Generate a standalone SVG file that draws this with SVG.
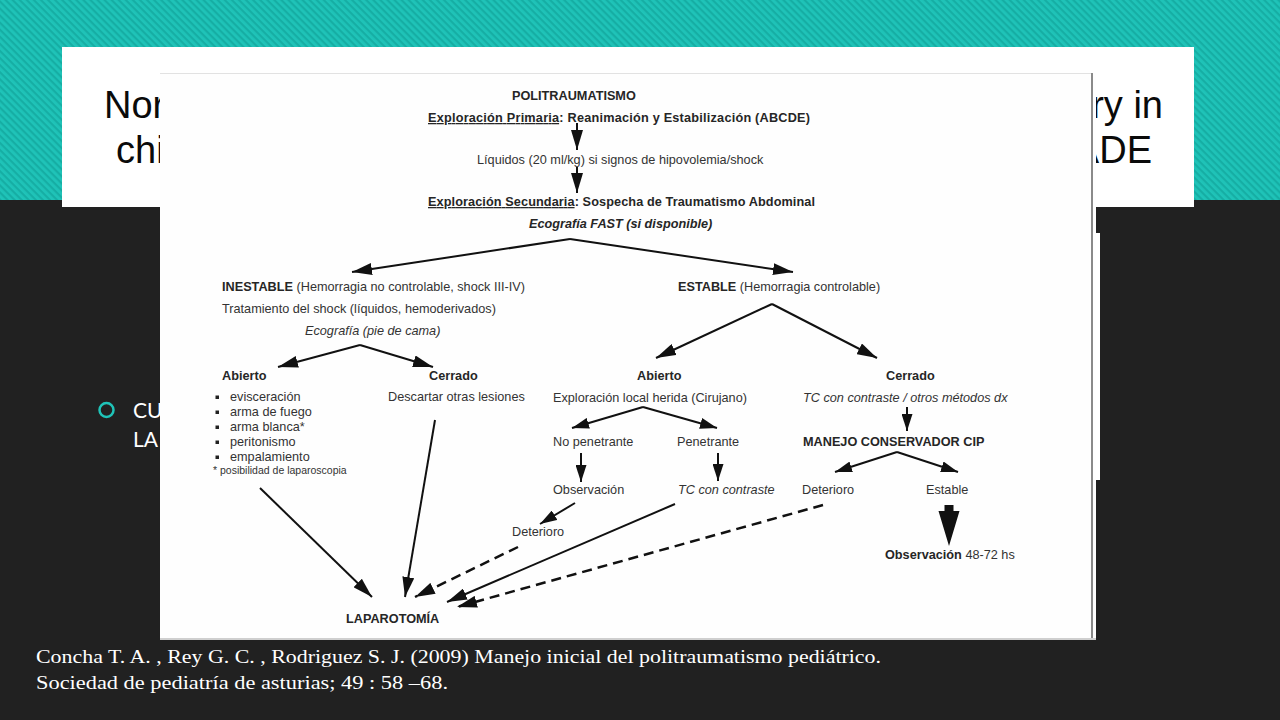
<svg xmlns="http://www.w3.org/2000/svg" width="1280" height="720" viewBox="0 0 1280 720">
  <defs>
    <pattern id="stripes" width="5" height="5" patternUnits="userSpaceOnUse" patternTransform="rotate(45)">
      <rect width="5" height="5" fill="#1fc3b8"/>
      <rect width="5" height="2.2" fill="#16aea4"/>
    </pattern>
    <marker id="ah" viewBox="0 0 20 12" refX="20" refY="6" markerWidth="20" markerHeight="12" markerUnits="userSpaceOnUse" orient="auto">
      <path d="M0,0 L20,6 L0,12 z" fill="#111"/>
    </marker>
    <marker id="ahs" viewBox="0 0 17 11" refX="17" refY="5.5" markerWidth="17" markerHeight="11" markerUnits="userSpaceOnUse" orient="auto">
      <path d="M0,0 L17,5.5 L0,11 z" fill="#111"/>
    </marker>
  </defs>
  <style>
    .d { font-family: "Liberation Sans", Arial, sans-serif; font-size: 12.7px; fill: #333; }
    .b { font-weight: bold; fill: #262626; }
    .i { font-style: italic; }
    .sm { font-size: 10.5px; }
    .ln { stroke: #111; stroke-width: 2; fill: none; marker-end: url(#ah); }
    .lns { stroke: #111; stroke-width: 2; fill: none; marker-end: url(#ahs); }
    .dash { stroke-dasharray: 10 6; stroke-width: 2.5; }
    .title { font-family: "Liberation Sans", Arial, sans-serif; font-size: 38px; fill: #0a0a0a; }
    .cite { font-family: "Liberation Serif", "Times New Roman", serif; font-size: 19px; fill: #fff; }
    .bul { font-family: "Lato", "Liberation Sans", sans-serif; font-size: 21px; fill: #fff; }
  </style>

  <!-- background -->
  <rect x="0" y="0" width="1280" height="720" fill="#212121"/>
  <rect x="0" y="0" width="1280" height="200" fill="url(#stripes)"/>

  <!-- title box -->
  <g id="title">
    <rect x="62" y="47" width="1132" height="160" fill="#fff"/>
    <text class="title"><tspan x="104" y="118">Nor</tspan><tspan x="116" y="163">chi</tspan></text>
    <text class="title" text-anchor="end"><tspan x="1163" y="118">ry in</tspan><tspan x="1152" y="163">ADE</tspan></text>
  </g>

  <!-- content placeholder edge -->
  <rect x="1096" y="233" width="4" height="247" fill="#fff"/>

  <!-- bullet text -->
  <g id="bullet">
    <circle cx="106.5" cy="410" r="7" fill="none" stroke="#1fc3b8" stroke-width="2.5"/>
    <text class="bul"><tspan x="133" y="418">CU</tspan><tspan x="133" y="447">LA</tspan></text>
  </g>

  <!-- diagram image panel -->
  <g id="panel">
    <rect x="160" y="73" width="936" height="567" fill="#fefefe"/>
    <line x1="160" y1="73.5" x2="1092" y2="73.5" stroke="#e2e2e2" stroke-width="1"/>
    <line x1="1092" y1="73" x2="1092" y2="640" stroke="#8a8a8a" stroke-width="2"/>
    <line x1="160" y1="639" x2="1096" y2="639" stroke="#cfcfcf" stroke-width="2"/>
  </g>

  <!-- connectors -->
  <g id="connectors">
    <path class="ln" d="M577,123 L577,150"/>
    <path class="ln" d="M577,167 L577,193"/>
    <path class="ln" d="M570,239 L352,272"/>
    <path class="ln" d="M570,239 L793,272"/>
    <path class="ln" d="M360,345 L278,367"/>
    <path class="ln" d="M360,345 L433,367"/>
    <path class="ln" d="M772,304 L656,358"/>
    <path class="ln" d="M772,304 L877,358"/>
    <path class="lns" d="M643,407 L572,428"/>
    <path class="lns" d="M643,407 L717,428"/>
    <path class="lns" d="M581,453 L581,482"/>
    <path class="lns" d="M718,453 L718,481"/>
    <path class="lns" d="M907,407 L907,431"/>
    <path class="lns" d="M897,452 L835,472"/>
    <path class="lns" d="M897,452 L958,472"/>
    <path class="lns" d="M575,503 L540,524"/>
    <path d="M944.5,505 h9 v6 h6 L949,546 L938.5,511 h6 z" fill="#111"/>
    <path class="ln" d="M260,488 L372,597"/>
    <path class="ln" d="M435,420 L405,597"/>
    <path class="ln dash" d="M518,547 L415,597"/>
    <path class="ln" d="M675,504 L447,602"/>
    <path class="ln dash" d="M823,505 L457,607"/>
  </g>

  <!-- nodes -->
  <g id="n-politrauma"><text class="d b" x="512" y="100">POLITRAUMATISMO</text></g>
  <g id="n-primaria"><text class="d b" x="428" y="122" textLength="382"><tspan text-decoration="underline">Exploración Primaria</tspan>: Reanimación y Estabilización (ABCDE)</text></g>
  <g id="n-liquidos"><text class="d" x="477" y="164">Líquidos (20 ml/kg) si signos de hipovolemia/shock</text></g>
  <g id="n-secundaria"><text class="d b" x="428" y="206" textLength="387"><tspan text-decoration="underline">Exploración Secundaria</tspan>: Sospecha de Traumatismo Abdominal</text></g>
  <g id="n-fast"><text class="d b i" x="529" y="228">Ecografía FAST (si disponible)</text></g>

  <g id="n-inestable">
    <text class="d" x="222" y="291"><tspan class="b">INESTABLE</tspan> (Hemorragia no controlable, shock III-IV)</text>
    <text class="d" x="222" y="313">Tratamiento del shock (líquidos, hemoderivados)</text>
    <text class="d i" x="305" y="335">Ecografía (pie de cama)</text>
  </g>

  <g id="n-abierto-l">
    <text class="d b" x="222" y="380">Abierto</text>
    <rect x="215.5" y="395.5" width="3.5" height="3.5" fill="#222"/>
    <rect x="215.5" y="410.5" width="3.5" height="3.5" fill="#222"/>
    <rect x="215.5" y="425.5" width="3.5" height="3.5" fill="#222"/>
    <rect x="215.5" y="440.5" width="3.5" height="3.5" fill="#222"/>
    <rect x="215.5" y="455.5" width="3.5" height="3.5" fill="#222"/>
    <text class="d" x="230" y="401">evisceración</text>
    <text class="d" x="230" y="416">arma de fuego</text>
    <text class="d" x="230" y="431">arma blanca*</text>
    <text class="d" x="230" y="446">peritonismo</text>
    <text class="d" x="230" y="461">empalamiento</text>
    <text class="d sm" x="213" y="474">* posibilidad de laparoscopia</text>
  </g>

  <g id="n-cerrado-l">
    <text class="d b" x="429" y="380">Cerrado</text>
    <text class="d" x="388" y="401">Descartar otras lesiones</text>
  </g>

  <g id="n-estable"><text class="d" x="678" y="291"><tspan class="b">ESTABLE</tspan> (Hemorragia controlable)</text></g>

  <g id="n-abierto-r">
    <text class="d b" x="637" y="380">Abierto</text>
    <text class="d" x="553" y="402">Exploración local herida (Cirujano)</text>
  </g>
  <g id="n-cerrado-r">
    <text class="d b" x="886" y="380">Cerrado</text>
    <text class="d i" x="803" y="402">TC con contraste / otros métodos dx</text>
  </g>

  <g id="n-nopen"><text class="d" x="553" y="446">No penetrante</text></g>
  <g id="n-pen"><text class="d" x="677" y="446">Penetrante</text></g>
  <g id="n-manejo"><text class="d b" x="803" y="446">MANEJO CONSERVADOR CIP</text></g>

  <g id="n-obs"><text class="d" x="553" y="494">Observación</text></g>
  <g id="n-tc"><text class="d i" x="678" y="494">TC con contraste</text></g>
  <g id="n-det-r"><text class="d" x="802" y="494">Deterioro</text></g>
  <g id="n-estable2"><text class="d" x="926" y="494">Estable</text></g>
  <g id="n-det-l"><text class="d" x="512" y="536">Deterioro</text></g>
  <g id="n-obs48"><text class="d" x="885" y="559"><tspan class="b">Observación</tspan> 48-72 hs</text></g>
  <g id="n-lap"><text class="d b" x="346" y="623">LAPAROTOMÍA</text></g>

  <!-- citation -->
  <g id="citation">
    <text class="cite" x="36" y="663" textLength="845" lengthAdjust="spacingAndGlyphs">Concha T. A. , Rey G. C. , Rodriguez S. J. (2009) Manejo inicial del politraumatismo pediátrico.</text>
    <text class="cite" x="36" y="689" textLength="412" lengthAdjust="spacingAndGlyphs">Sociedad de pediatría de asturias; 49 : 58 –68.</text>
  </g>
</svg>
